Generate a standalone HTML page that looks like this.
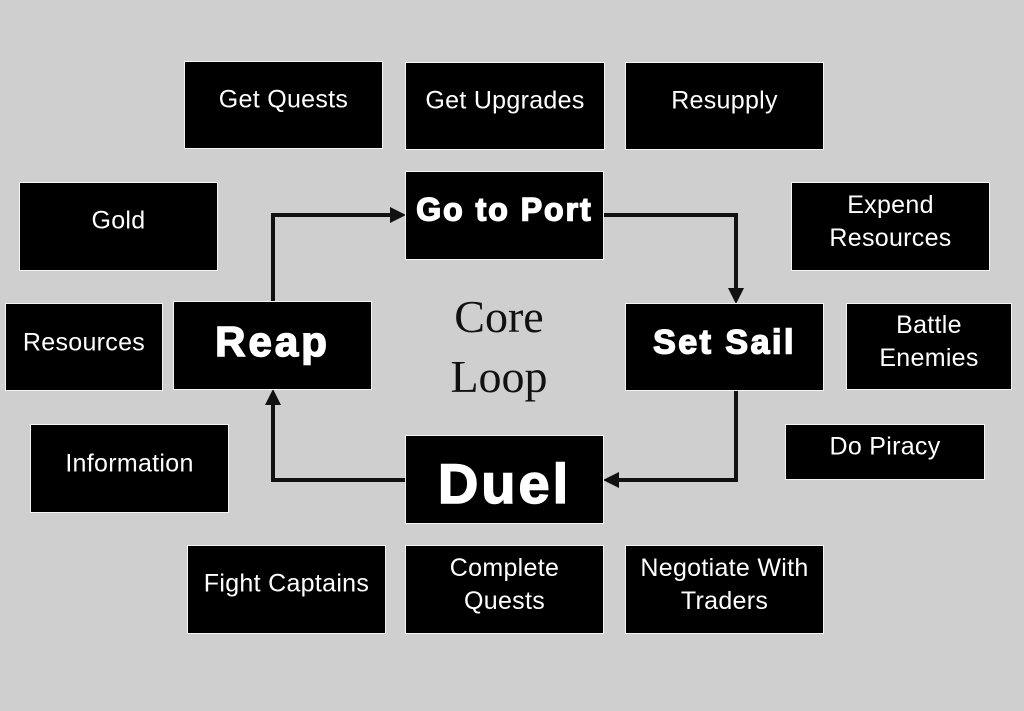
<!DOCTYPE html>
<html><head><meta charset="utf-8"><style>
html,body{margin:0;padding:0}
body{width:1024px;height:711px;background:#d0cfd0;position:relative;overflow:hidden;font-family:"Liberation Sans",Arial,sans-serif}
.b{position:absolute;background:#000;box-shadow:0 0 0 1px #f4f4f4;}
.t{position:absolute;left:-20px;right:-20px;text-align:center;color:#fff;font-size:25px;line-height:33px;transform:translateY(-50%);letter-spacing:0.3px}
.k{font-weight:bold;-webkit-text-stroke:1.5px #fff}
.c{position:absolute;font-family:"Liberation Serif",serif;font-size:46px;color:#111;text-align:center;width:200px;left:399px}
</style></head><body>
<svg width="1024" height="711" style="position:absolute;left:0;top:0">
<g stroke="#111" stroke-width="4" fill="none">
<polyline points="273,304 273,215 392,215"/>
<polyline points="603,215 736,215 736,291"/>
<polyline points="736,390 736,480 619,480"/>
<polyline points="406,480 273,480 273,402"/>
</g>
<g fill="#111">
<polygon points="406,215 390,207 390,223"/>
<polygon points="736,304 728,288 744,288"/>
<polygon points="603,480 619,472 619,488"/>
<polygon points="273,389 265,405 281,405"/>
</g>
</svg>
<div class="b" style="left:185px;top:62px;width:197px;height:86px"><div class="t" style="top:38px">Get Quests</div></div>
<div class="b" style="left:406px;top:63px;width:198px;height:86px"><div class="t" style="top:38px">Get Upgrades</div></div>
<div class="b" style="left:626px;top:63px;width:197px;height:86px"><div class="t" style="top:38px">Resupply</div></div>
<div class="b" style="left:20px;top:183px;width:197px;height:87px"><div class="t" style="top:38px">Gold</div></div>
<div class="b" style="left:406px;top:172px;width:197px;height:87px"><div class="t k" style="top:38px;font-size:32px;letter-spacing:2px">Go to Port</div></div>
<div class="b" style="left:792px;top:183px;width:197px;height:87px"><div class="t" style="top:39px">Expend<br>Resources</div></div>
<div class="b" style="left:6px;top:304px;width:156px;height:86px"><div class="t" style="top:39px">Resources</div></div>
<div class="b" style="left:174px;top:302px;width:197px;height:87px"><div class="t k" style="top:40px;font-size:42px;line-height:46px;letter-spacing:3px">Reap</div></div>
<div class="b" style="left:626px;top:304px;width:197px;height:86px"><div class="t k" style="top:39px;font-size:34px;letter-spacing:2.5px">Set Sail</div></div>
<div class="b" style="left:847px;top:304px;width:164px;height:85px"><div class="t" style="top:38px">Battle<br>Enemies</div></div>
<div class="b" style="left:31px;top:425px;width:197px;height:87px"><div class="t" style="top:39px">Information</div></div>
<div class="b" style="left:786px;top:425px;width:198px;height:54px"><div class="t" style="top:22px">Do Piracy</div></div>
<div class="b" style="left:406px;top:436px;width:197px;height:87px"><div class="t k" style="top:48px;font-size:56px;line-height:60px;letter-spacing:3px">Duel</div></div>
<div class="b" style="left:188px;top:546px;width:197px;height:87px"><div class="t" style="top:38px">Fight Captains</div></div>
<div class="b" style="left:406px;top:546px;width:197px;height:87px"><div class="t" style="top:39px">Complete<br>Quests</div></div>
<div class="b" style="left:626px;top:546px;width:197px;height:87px"><div class="t" style="top:39px">Negotiate With<br>Traders</div></div>
<div class="c" style="top:290px">Core</div>
<div class="c" style="top:350px">Loop</div>
</body></html>
